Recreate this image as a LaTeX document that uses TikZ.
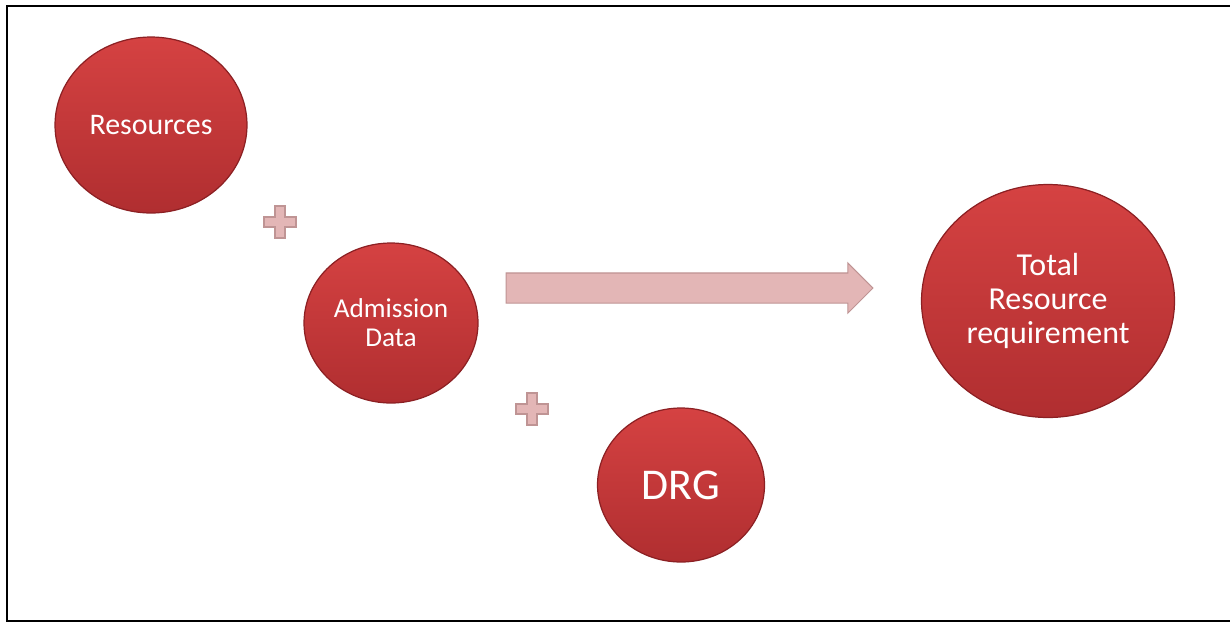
\documentclass[tikz,border=0pt]{standalone}
\usepackage{fontspec}
\setmainfont{Carlito}
\usetikzlibrary{shapes.geometric, shapes.arrows, positioning}
\definecolor{ballTop}{HTML}{D54242}
\definecolor{ballBot}{HTML}{B02E30}
\definecolor{ballRim}{HTML}{8C2023}
\definecolor{pinkFill}{HTML}{E3B6B6}
\definecolor{pinkLine}{HTML}{BF9494}
\tikzset{
  ball/.style={ellipse, draw=ballRim, line width=0.7pt, top color=ballTop,
               bottom color=ballBot, text=white, align=center, inner sep=0pt},
  arrowP/.style={single arrow, fill=pinkFill, draw=pinkLine, line width=0.6pt,
                 inner xsep=0pt, inner ysep=0.29cm, single arrow head extend=0.2cm,
                 single arrow head indent=0pt},
  plusmark/.pic={
    \draw[fill=pinkFill, draw=pinkLine, line width=0.6pt]
      (-16,-5) -- (-5,-5) -- (-5,-16) -- (5,-16) -- (5,-5) -- (16,-5)
      -- (16,5) -- (5,5) -- (5,16) -- (-5,16) -- (-5,5) -- (-16,5) -- cycle;
  },
}

\begin{document}
\begin{tikzpicture}[x=0.02cm, y=-0.02cm]
    \useasboundingbox (0,0) rectangle (1230,623);
    \draw[line width=0.05cm] (7,6) rectangle (1245,621);
    % the four balls
    \node[ball, minimum width=3.84cm, minimum height=3.52cm,
          font=\fontsize{17}{19}\selectfont] (res) at (151,125) {Resources};
    \node[ball, minimum width=3.48cm, minimum height=3.2cm,
          font=\fontsize{15.5}{16.6}\selectfont] (adm) at (391,323) {Admission\\Data};
    \node[ball, minimum width=3.34cm, minimum height=3.08cm,
          font=\fontsize{25}{27}\selectfont] (drg) at (681,485) {DRG};
    \node[ball, minimum width=5.06cm, minimum height=4.66cm,
          font=\fontsize{18.2}{19.3}\selectfont] (tot) at (1048,301) {Total\\Resource\\requirement};
    % plus signs and the big arrow
    \pic at (280,222) {plusmark};
    \pic at (532,409) {plusmark};
    \node[arrowP, minimum height=7.34cm] (flow) at (682,288) {};
\end{tikzpicture}
\end{document}
